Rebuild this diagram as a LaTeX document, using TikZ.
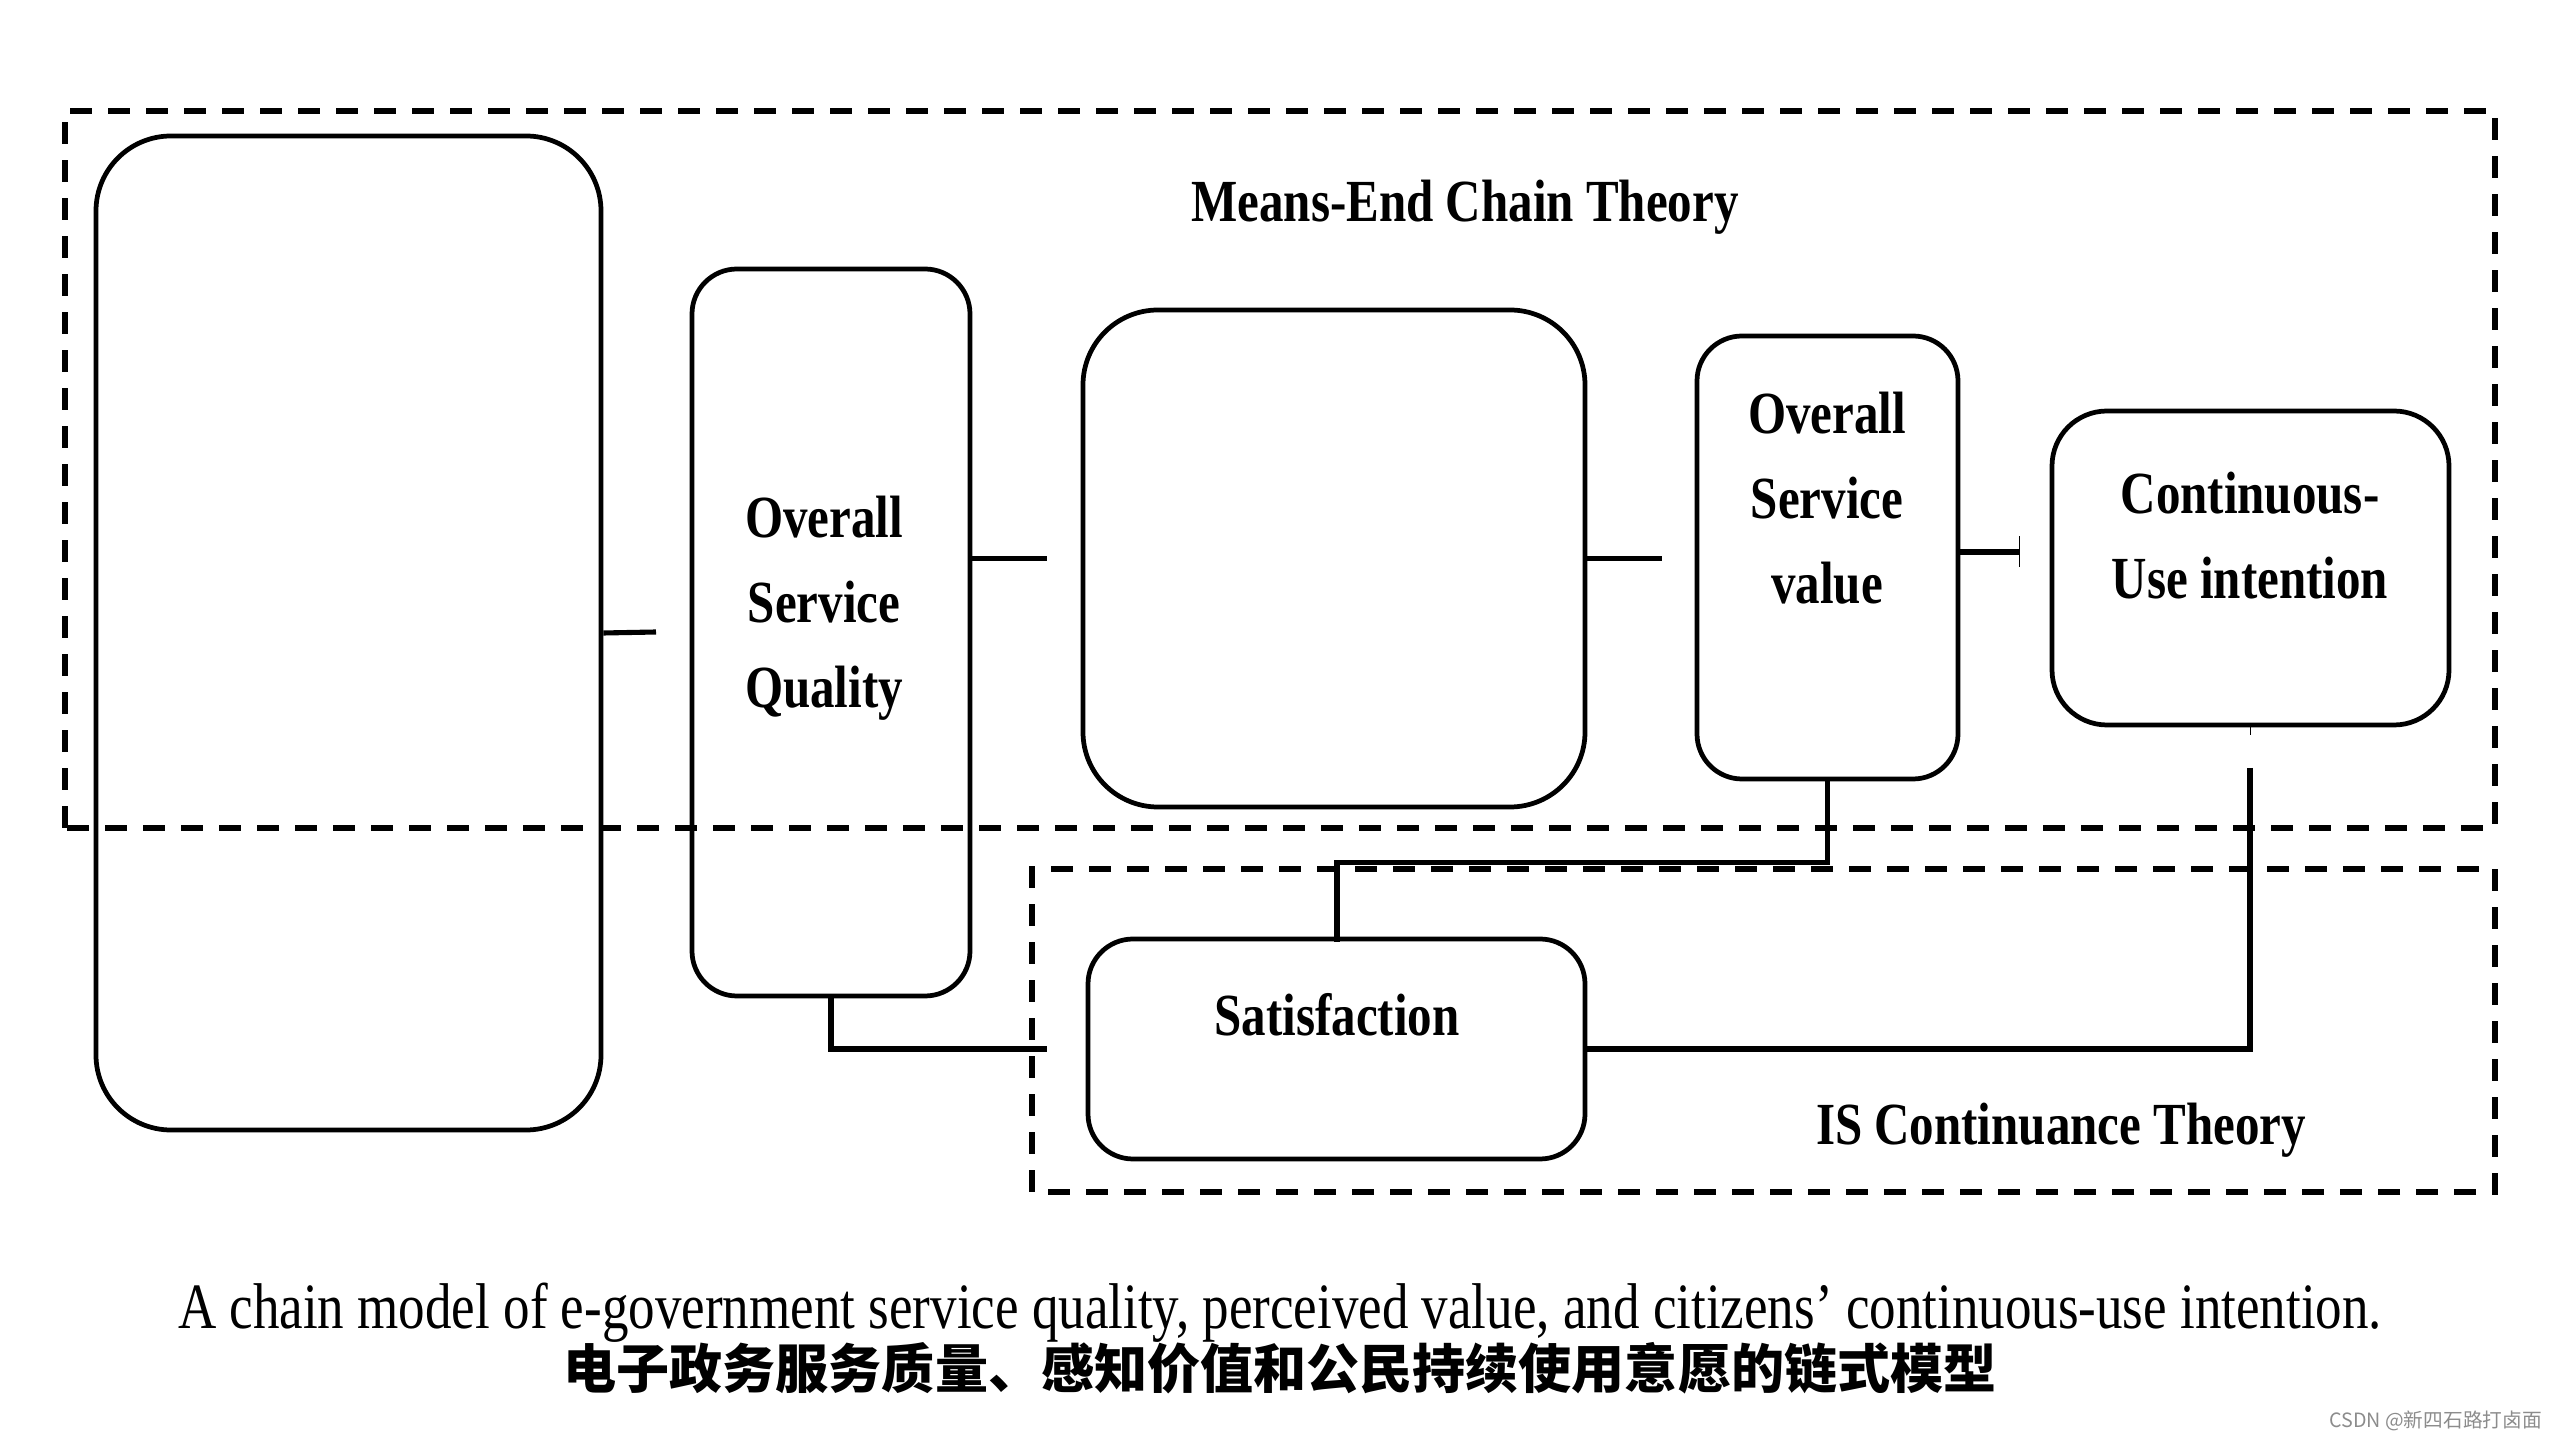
\documentclass[tikz,border=0pt]{standalone}
\usepackage{fontspec}
\setmainfont{Liberation Serif}[FakeStretch=0.82]
\newfontfamily\cjk{Noto Sans CJK SC}
\usetikzlibrary{arrows.meta}

\begin{document}
\begin{tikzpicture}[line width=1.3pt]
  \tikzstyle{box}=[draw,line width=1.35pt,inner sep=0pt]
  \tikzstyle{lbl}=[align=center,inner sep=0pt,font=\fontsize{17}{24.2}\selectfont\bfseries]
  \tikzstyle{frame}=[line width=1.5pt,dash pattern=on 0.22cm off 0.16cm]
  \tikzstyle{link}=[line width=1.45pt]
  \useasboundingbox (0,0) rectangle (25.6,14.4);

  % the two theory frames
  \draw[frame] (0.65,6.12) rectangle (24.95,13.29);
  \draw[frame] (10.32,2.48) rectangle (24.95,5.71);
  \node[lbl] (T_mect) at (14.65,12.33) {Means-End Chain Theory};
  \node[lbl] (T_isct) at (20.61,3.1) {IS Continuance Theory};

  % constructs
  \node[box,rounded corners=0.75cm,minimum width=5.05cm,minimum height=9.94cm] (B_big) at (3.485,8.07) {};
  \node[box,rounded corners=0.45cm,minimum width=2.78cm,minimum height=7.27cm] (B_osq) at (8.31,8.075) {};
  \node[box,rounded corners=0.75cm,minimum width=5.02cm,minimum height=4.97cm] (B_mid) at (13.34,8.815) {};
  \node[box,rounded corners=0.45cm,minimum width=2.61cm,minimum height=4.43cm] (B_osv) at (18.275,8.825) {};
  \node[box,rounded corners=0.55cm,minimum width=3.97cm,minimum height=3.14cm] (B_cui) at (22.505,8.72) {};
  \node[box,rounded corners=0.45cm,minimum width=4.97cm,minimum height=2.2cm] (B_sat) at (13.365,3.91) {};

  \node[lbl] (T_osq) at (8.24,8.32) {Overall\\Service\\Quality};
  \node[lbl] (T_osv) at (18.27,9.42) {Overall\\Service\\value};
  \node[lbl] (T_cui) at (22.5,9.04) {Continuous-\\Use intention};
  \node[lbl] (T_sat) at (13.37,4.25) {Satisfaction};

  % free ends of the links
  \coordinate (C_osqIn) at (6.56,8.08);
  \coordinate (C_midIn) at (10.47,8.815);
  \coordinate (C_osvIn) at (16.62,8.815);
  \coordinate (C_cuiIn) at (20.2,8.88);
  \coordinate (C_satW) at (10.47,3.91);
  \coordinate (C_satN) at (13.37,4.98);
  \coordinate (C_cuiOut) at (22.5,6.72);

  % links
  \draw[link] (B_big.east) -- (C_osqIn);
  \draw[link] (B_osq.east |- C_midIn) -- (C_midIn);
  \draw[link] (B_mid.east) -- (C_osvIn);
  \draw[link,-{Bar[width=3.1mm,line width=0.4pt]}] (B_osv.east |- C_cuiIn) -- (C_cuiIn);
  \draw[link] (B_osq.south) |- (C_satW);
  \draw[link] (B_osv.south) -- ++(0,-0.81) -| (C_satN);
  \draw[line width=0.4pt] (B_cui.south) -- ++(0,-0.08);
  \draw[link] (C_cuiOut) |- (B_sat.east);

  % captions
  \node[font=\fontsize{18.4}{20}\selectfont] (T_capEn) at (12.8,1.27)
        {A chain model of e-government service quality, perceived value, and citizens' continuous-use intention.};
  \node[font=\cjk\bfseries\fontsize{15.1}{17}\selectfont] (T_capZh) at (12.8,0.72)
        {电子政务服务质量、感知价值和公民持续使用意愿的链式模型};
  \node[anchor=east,inner sep=0pt,text=black!45,font=\cjk\fontsize{5.6}{7}\selectfont] (T_mark) at (25.44,0.19)
        {CSDN @新四石路打卤面};
\end{tikzpicture}
\end{document}
